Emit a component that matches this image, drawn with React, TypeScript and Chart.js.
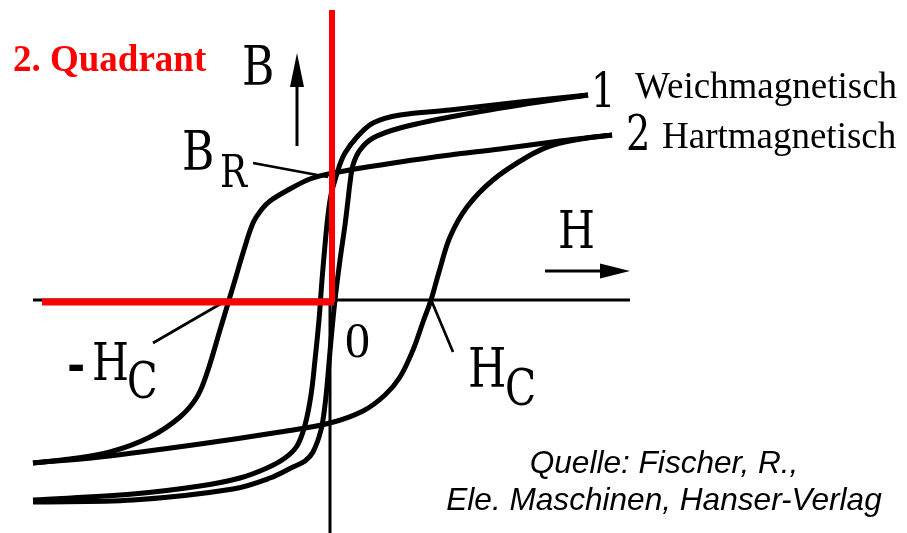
import React, { useEffect, useRef } from "react";
import { Chart, registerables } from "chart.js";

Chart.register(...registerables);

// Axis ranges (H horizontal, B vertical; origin at the axes crossing)
const H_MIN = -3.3;
const H_MAX = 5.77;
const B_MIN = -2.33;
const B_MAX = 3.0;

// Curve 1: Weichmagnetisch (soft magnetic) – descending branch
const softDownH = [2.58, 1.9, 1.2, 0.7, 0.43, 0.27, 0.15, 0.09, 0.05, 0.01, -0.02, -0.05, -0.08, -0.11, -0.15, -0.19, -0.25, -0.33, -0.45, -0.63, -0.9, -1.3, -1.97, -2.97];
const softDownB = [2.05, 1.98, 1.9, 1.85, 1.77, 1.63, 1.47, 1.33, 1.2, 1.05, 0.85, 0.55, 0.2, -0.2, -0.6, -0.95, -1.25, -1.46, -1.58, -1.68, -1.78, -1.86, -1.94, -2.0];
// Curve 1 – ascending branch
const softUpH = [-2.97, -1.97, -0.97, -0.6, -0.37, -0.25, -0.17, -0.09, -0.05, -0.02, 0.01, 0.05, 0.1, 0.15, 0.18, 0.2, 0.23, 0.3, 0.43, 0.7, 1.2, 1.9, 2.58];
const softUpB = [-2.02, -2.0, -1.89, -1.78, -1.67, -1.61, -1.52, -1.3, -1.05, -0.75, -0.4, 0.0, 0.4, 0.75, 1.0, 1.17, 1.35, 1.5, 1.62, 1.72, 1.83, 1.95, 2.05];

// Curve 2: Hartmagnetisch (hard magnetic) – descending branch
const hardDownH = [2.82, 2.3, 1.7, 1.2, 0.7, 0.03, -0.2, -0.42, -0.6, -0.68, -0.77, -0.87, -0.95, -1.01, -1.1, -1.23, -1.33, -1.5, -1.8, -2.2, -2.6, -2.97];
const hardDownB = [1.65, 1.59, 1.51, 1.45, 1.38, 1.27, 1.21, 1.1, 0.99, 0.91, 0.77, 0.47, 0.2, 0.0, -0.3, -0.73, -0.97, -1.17, -1.37, -1.52, -1.59, -1.63];
// Curve 2 – ascending branch
const hardUpH = [-2.97, -2.3, -1.3, -0.5, 0.0, 0.33, 0.55, 0.7, 0.83, 0.93, 1.01, 1.09, 1.2, 1.37, 1.63, 1.97, 2.23, 2.57, 2.82];
const hardUpB = [-1.63, -1.57, -1.44, -1.32, -1.23, -1.11, -0.95, -0.77, -0.5, -0.22, 0.0, 0.28, 0.63, 0.93, 1.2, 1.43, 1.55, 1.62, 1.65];

// Axis lines
const axisBlackH_H = [-2.97, 3.0];
const axisBlackH_B = [0, 0];
const axisBlackV_H = [0, 0];
const axisBlackV_B = [0, -2.33];
const quadrantRedH_H = [-2.88, 0.04];
const quadrantRedH_B = [-0.02, -0.02];
const quadrantRedV_H = [0.02, 0.02];
const quadrantRedV_B = [2.9, -0.02];

// Leader lines [fromH, fromB, toH, toB]
const leaderBR = [-0.77, 1.37, -0.02, 1.23];
const leaderNegHc = [-1.77, -0.43, -1.08, -0.03];
const leaderHc = [1.02, -0.02, 1.23, -0.52];

// Arrows [startH, startB, tipH, tipB]
const arrowB = [-0.33, 1.54, -0.33, 2.47];
const arrowH = [2.15, 0.29, 3.0, 0.29];

// Labels
const curveNumbers = ["1", "2"];
const curveNames = ["Weichmagnetisch", "Hartmagnetisch"];
const sourceLines = ["Quelle: Fischer, R.,", "Ele. Maschinen, Hanser-Verlag"];
const quadrantLabel = "2. Quadrant";

const zip = (xs: number[], ys: number[]) => xs.map((x, i) => ({ x, y: ys[i] }));
const seg = (a: number[]) => [{ x: a[0], y: a[1] }, { x: a[2], y: a[3] }];

const CAD = '"DejaVu Serif", serif';

const annotationPlugin = {
  id: "annotations",
  afterDatasetsDraw(chart: any) {
    const { ctx, scales } = chart;
    const X = (v: number) => scales.x.getPixelForValue(v);
    const Y = (v: number) => scales.y.getPixelForValue(v);

    const text = (t: string, h: number, b: number, font: string, color = "#000", sx = 1, align: CanvasTextAlign = "left") => {
      ctx.save();
      ctx.translate(X(h), Y(b));
      ctx.scale(sx, 1);
      ctx.font = font;
      ctx.fillStyle = color;
      ctx.textAlign = align;
      ctx.textBaseline = "alphabetic";
      ctx.fillText(t, 0, 0);
      ctx.restore();
    };

    const arrow = (a: number[], vertical: boolean) => {
      const x0 = X(a[0]), y0 = Y(a[1]), x1 = X(a[2]), y1 = Y(a[3]);
      ctx.save();
      ctx.strokeStyle = "#000";
      ctx.fillStyle = "#000";
      ctx.lineWidth = 3;
      ctx.beginPath();
      if (vertical) {
        ctx.moveTo(x0, y0);
        ctx.lineTo(x1, y1 + 30);
      } else {
        ctx.moveTo(x0, y0);
        ctx.lineTo(x1 - 28, y1);
      }
      ctx.stroke();
      ctx.beginPath();
      if (vertical) {
        ctx.moveTo(x1, y1);
        ctx.lineTo(x1 - 7, y1 + 34);
        ctx.lineTo(x1 + 7, y1 + 34);
      } else {
        ctx.moveTo(x1, y1);
        ctx.lineTo(x1 - 30, y1 - 7.5);
        ctx.lineTo(x1 - 30, y1 + 7.5);
      }
      ctx.closePath();
      ctx.fill();
      ctx.restore();
    };

    arrow(arrowB, true);
    arrow(arrowH, false);

    text(quadrantLabel, -3.17, 2.29, 'bold 37px "Liberation Serif", serif', "#ff0000");
    text("B", -0.88, 2.15, `55px ${CAD}`, "#000", 0.8);
    text("B", -1.48, 1.3, `55px ${CAD}`, "#000", 0.8);
    text("R", -1.1, 1.13, `45px ${CAD}`, "#000", 0.8);
    text("-", -2.63, -0.81, 'bold 44px "DejaVu Sans", sans-serif');
    text("H", -2.38, -0.8, `53px ${CAD}`, "#000", 0.8);
    text("C", -2.03, -0.98, `50px ${CAD}`, "#000", 0.8);
    text("H", 1.38, -0.87, `55px ${CAD}`, "#000", 0.8);
    text("C", 1.75, -1.05, `51px ${CAD}`, "#000", 0.8);
    text("H", 2.28, 0.52, `53px ${CAD}`, "#000", 0.8);
    text("0", 0.15, -0.57, '50px "Liberation Serif", serif');
    text(curveNumbers[0], 2.61, 1.93, `48px ${CAD}`, "#000", 0.8);
    text(curveNumbers[1], 2.96, 1.5, `48px ${CAD}`, "#000", 0.8);
    text(curveNames[0], 3.05, 2.02, '37px "Liberation Serif", serif');
    text(curveNames[1], 3.32, 1.52, '37px "Liberation Serif", serif');
    text(sourceLines[0], 3.34, -1.73, 'italic 31.6px "Liberation Sans", sans-serif', "#000", 1, "center");
    text(sourceLines[1], 3.34, -2.1, 'italic 31.6px "Liberation Sans", sans-serif', "#000", 1, "center");
  },
};

export default function App() {
  const ref = useRef<HTMLCanvasElement | null>(null);

  useEffect(() => {
    if (!ref.current) return;
    const curve = (data: any[], order: number) => ({
      data,
      showLine: true,
      borderColor: "#000",
      borderWidth: 5,
      pointRadius: 0,
      tension: 0.35,
      fill: false,
      order,
    });
    const line = (data: any[], color: string, width: number, order: number) => ({
      data,
      showLine: true,
      borderColor: color,
      borderWidth: width,
      pointRadius: 0,
      tension: 0,
      fill: false,
      order,
      borderCapStyle: "butt",
    });

    const chart = new Chart(ref.current, {
      type: "scatter",
      data: {
        datasets: [
          line(zip(quadrantRedV_H, quadrantRedV_B), "#ff0000", 6, 0),
          line(zip(quadrantRedH_H, quadrantRedH_B), "#ff0000", 7, 0),
          curve(zip(softDownH, softDownB), 1),
          curve(zip(softUpH, softUpB), 1),
          curve(zip(hardDownH, hardDownB), 1),
          curve(zip(hardUpH, hardUpB), 1),
          line(seg(leaderBR), "#000", 2.7, 2),
          line(seg(leaderNegHc), "#000", 2.7, 2),
          line(seg(leaderHc), "#000", 2.7, 2),
          line(zip(axisBlackH_H, axisBlackH_B), "#000", 3, 3),
          line(zip(axisBlackV_H, axisBlackV_B), "#000", 3, 3),
        ] as any,
      },
      options: {
        animation: false,
        responsive: false,
        maintainAspectRatio: false,
        layout: { padding: 0 },
        plugins: { legend: { display: false }, tooltip: { enabled: false } },
        scales: {
          x: { type: "linear", min: H_MIN, max: H_MAX, display: false },
          y: { type: "linear", min: B_MIN, max: B_MAX, display: false },
        },
      },
      plugins: [annotationPlugin],
    });
    return () => chart.destroy();
  }, []);

  return (
    <div style={{ position: "absolute", left: 0, top: 0, width: 907, height: 533, background: "#fff" }}>
      <canvas ref={ref} width={907} height={533} style={{ display: "block" }} />
    </div>
  );
}
